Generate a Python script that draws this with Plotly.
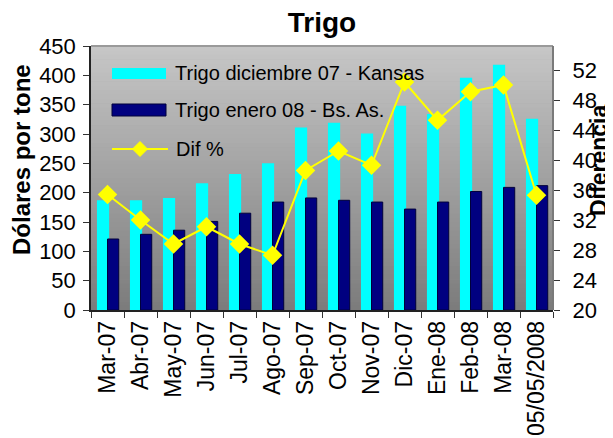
import plotly.graph_objects as go

categories = ["Mar-07", "Abr-07", "May-07", "Jun-07", "Jul-07", "Ago-07", "Sep-07",
              "Oct-07", "Nov-07", "Dic-07", "Ene-08", "Feb-08", "Mar-08", "05/05/2008"]
kansas = [187, 187, 191, 216, 232, 250, 311, 319, 301, 348, 334, 396, 418, 326]
bsas = [121, 129, 136, 151, 165, 184, 191, 187, 184, 172, 184, 202, 209, 212]
dif = [35.4, 32.0, 28.8, 31.1, 28.8, 27.3, 38.6, 41.2, 39.3, 50.4, 45.3, 49.1, 50.0, 35.3]

left_ticks = [0, 50, 100, 150, 200, 250, 300, 350, 400, 450]
right_ticks = [20, 24, 28, 32, 36, 40, 44, 48, 52]

names = ["Trigo diciembre 07 - Kansas", "Trigo enero 08 - Bs. As.", "Dif %"]

FONT = "Liberation Sans, Arial, sans-serif"
CYAN = "#00ffff"
NAVY = "#000080"
YELLOW = "#ffff00"

# page has an 8px body margin: figure is 605x430, plot area 83..545 x 38..302
W, H = 605, 430
L, R, T, B = 83, 60, 38, 128
PW = W - L - R
PH = H - T - B


def px(xp):  # page x -> paper fraction
    return (xp - 8 - L) / PW


def py(yp):  # page y -> paper fraction
    return (H - B - (yp - 8)) / PH


fig = go.Figure()
fig.add_trace(go.Bar(
    x=categories, y=kansas, name=names[0],
    marker=dict(color=CYAN, line=dict(width=0)),
    offset=-0.32, width=0.37, showlegend=False,
))
fig.add_trace(go.Bar(
    x=categories, y=bsas, name=names[1],
    marker=dict(color=NAVY, line=dict(color="#00003c", width=1)),
    offset=0.0, width=0.34, showlegend=False,
))
fig.add_trace(go.Scatter(
    x=categories, y=dif, name=names[2], yaxis="y2", mode="lines+markers",
    line=dict(color=YELLOW, width=2),
    marker=dict(symbol="diamond", size=15, color=YELLOW),
    showlegend=False,
))

# vertical gray gradient background of plot area
n = 60
top = (198, 198, 198)
bot = (124, 124, 124)
shapes = []
for i in range(n):
    t = i / (n - 1)
    c = tuple(round(top[k] + (bot[k] - top[k]) * t) for k in range(3))
    shapes.append(dict(
        type="rect", xref="paper", yref="paper",
        x0=0, x1=1, y0=1 - (i + 1) / n - 0.002, y1=1 - i / n,
        fillcolor="rgb(%d,%d,%d)" % c, line=dict(width=0), layer="below",
    ))
shapes.append(dict(type="line", xref="paper", yref="paper", x0=0, x1=1, y0=1, y1=1,
                   line=dict(color="#9a9a9a", width=2)))
shapes.append(dict(type="line", xref="paper", yref="paper", x0=1, x1=1, y0=0, y1=1,
                   line=dict(color="#7a7a7a", width=2)))

# legend drawn inside the plot area
shapes.append(dict(type="rect", xref="paper", yref="paper",
                   x0=px(112), x1=px(166), y0=py(79), y1=py(68),
                   fillcolor=CYAN, line=dict(width=0)))
shapes.append(dict(type="rect", xref="paper", yref="paper",
                   x0=px(112), x1=px(166), y0=py(116), y1=py(104),
                   fillcolor=NAVY, line=dict(color="#00003c", width=1)))
shapes.append(dict(type="line", xref="paper", yref="paper",
                   x0=px(112), x1=px(168), y0=py(149), y1=py(149),
                   line=dict(color=YELLOW, width=2)))
shapes.append(dict(type="path", xref="paper", yref="paper",
                   xsizemode="pixel", ysizemode="pixel",
                   xanchor=px(140), yanchor=py(149),
                   path="M -7.5,0 L 0,7.5 L 7.5,0 L 0,-7.5 Z",
                   fillcolor=YELLOW, line=dict(color=YELLOW, width=1)))

legend_text = [
    dict(text=names[0], x=px(173), y=py(73)),
    dict(text=names[1], x=px(173), y=py(110)),
    dict(text=names[2], x=px(174), y=py(149)),
]
annotations = []
for item in legend_text:
    annotations.append(dict(text=item["text"], x=item["x"], y=item["y"],
                            xref="paper", yref="paper", xanchor="left", yanchor="middle",
                            showarrow=False, font=dict(size=20, family=FONT)))

annotations += [
    dict(text="<b>Dólares por tone</b>", textangle=-90, xref="paper", yref="paper",
         x=px(21), y=py(160), xanchor="center", yanchor="middle",
         showarrow=False, font=dict(size=24, family=FONT)),
    dict(text="<b>Diferencia</b>", textangle=-90, xref="paper", yref="paper",
         x=px(599), y=py(161), xanchor="center", yanchor="middle",
         showarrow=False, font=dict(size=23, family=FONT)),
]

fig.update_layout(
    width=W, height=H,
    margin=dict(l=L, r=R, t=T, b=B, autoexpand=False),
    paper_bgcolor="white", plot_bgcolor="#a0a0a0",
    barmode="overlay",
    font=dict(family=FONT, color="black", size=20),
    title=dict(text="<b>Trigo</b>", x=0.5, xref="paper", xanchor="center",
               y=1 - 14 / H, yref="container", yanchor="middle",
               font=dict(size=28, family=FONT, color="black")),
    xaxis=dict(type="category", tickangle=-90, tickson="boundaries",
               ticks="outside", ticklen=6, tickcolor="#333", showline=True,
               linecolor="#222", linewidth=1.5, showgrid=False, automargin=False,
               tickfont=dict(size=23), range=[-0.5, 13.5]),
    yaxis=dict(range=[0, 450], tickvals=left_ticks, ticks="outside", ticklen=6,
               tickcolor="#333", showline=True, linecolor="#222", linewidth=1.5,
               showgrid=False, zeroline=False, automargin=False,
               tickfont=dict(size=22), ticklabelstandoff=3),
    yaxis2=dict(range=[20, 55.2], tickvals=right_ticks, overlaying="y", side="right",
                ticks="outside", ticklen=6, tickcolor="#333", showline=False,
                showgrid=False, zeroline=False, automargin=False,
                tickfont=dict(size=22), ticklabelstandoff=8),
    shapes=shapes,
    annotations=annotations,
    showlegend=False,
)

fig.write_html("out.html")
